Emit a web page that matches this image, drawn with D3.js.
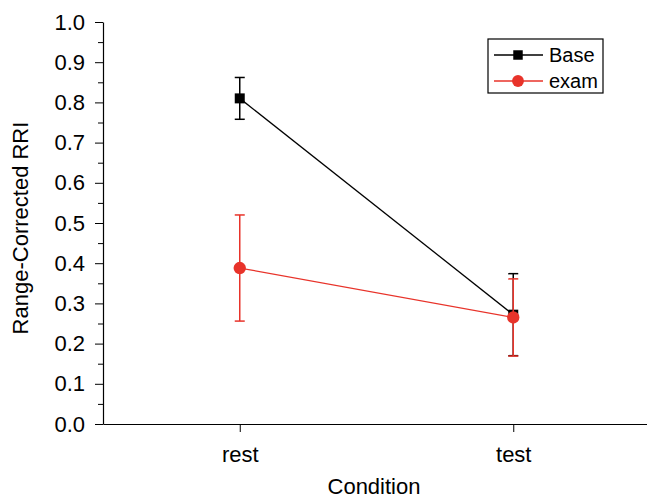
<!DOCTYPE html>
<html>
<head>
<meta charset="utf-8">
<script src="https://cdn.jsdelivr.net/npm/d3@7"></script>
<style>
  body { margin: 0; background: #fff; }
  text { font-family: "Liberation Sans", Arial, sans-serif; }
</style>
</head>
<body>
<script>
// Data
var conditions = ["rest", "test"];
var baseMean = [0.81, 0.272];
var baseErr = [0.052, 0.102];
var examMean = [0.388, 0.265];
var examErr = [0.132, 0.096];
var yTicks = [0, 0.1, 0.2, 0.3, 0.4, 0.5, 0.6, 0.7, 0.8, 0.9, 1.0];

var width = 647, height = 499;
var plotLeft = 103, plotTop = 22, plotBottom = 424;
var fontSize = 22;

var svg = d3.select("body").append("svg")
  .attr("width", width)
  .attr("height", height);

var x = d3.scalePoint().domain(conditions).range([plotLeft, 650]).padding(0.5);
var y = d3.scaleLinear().domain([0, 1]).range([plotBottom, plotTop]);

// y axis with minor ticks
var yMinor = d3.range(0.05, 1, 0.1);
svg.append("g")
  .attr("transform", `translate(${plotLeft},0)`)
  .call(d3.axisLeft(y).tickValues(yMinor).tickSize(5).tickFormat(""))
  .call(g => g.select(".domain").remove())
  .selectAll("line").attr("stroke", "#000");

var yAxis = svg.append("g")
  .attr("transform", `translate(${plotLeft},0)`)
  .call(d3.axisLeft(y).tickValues(yTicks).tickSize(8).tickSizeOuter(0).tickPadding(10).tickFormat(d3.format(".1f")));
yAxis.selectAll("text").attr("font-size", fontSize).attr("fill", "#000");

// x axis
var xAxis = svg.append("g")
  .attr("transform", `translate(0,${plotBottom})`)
  .call(d3.axisBottom(x).tickSize(8).tickSizeOuter(0).tickPadding(14));
xAxis.selectAll("text").attr("font-size", fontSize).attr("fill", "#000");

svg.selectAll(".domain").attr("stroke", "#000").attr("stroke-width", 1.2);

// axis titles
svg.append("text")
  .attr("x", 374).attr("y", 494)
  .attr("text-anchor", "middle")
  .attr("font-size", fontSize)
  .text("Condition");

svg.append("text")
  .attr("transform", "translate(28,228) rotate(-90)")
  .attr("text-anchor", "middle")
  .attr("font-size", fontSize)
  .text("Range-Corrected RRI");

// series
function series(mean, err, color, shape) {
  var g = svg.append("g");
  var line = d3.line().x((d, i) => x(conditions[i])).y(d => y(d));
  g.append("path").datum(mean)
    .attr("d", line).attr("fill", "none")
    .attr("stroke", color).attr("stroke-width", 1.3);

  mean.forEach(function (m, i) {
    var cx = x(conditions[i]);
    g.append("line")
      .attr("x1", cx).attr("x2", cx)
      .attr("y1", y(m - err[i])).attr("y2", y(m + err[i]))
      .attr("stroke", color).attr("stroke-width", 1.5);
    [m - err[i], m + err[i]].forEach(function (v) {
      g.append("line")
        .attr("x1", cx - 5).attr("x2", cx + 5)
        .attr("y1", y(v)).attr("y2", y(v))
        .attr("stroke", color).attr("stroke-width", 1.5);
    });
  });

  g.selectAll(".pt").data(mean).enter()
    .append("path")
    .attr("transform", (d, i) => `translate(${x(conditions[i])},${y(d)})`)
    .attr("d", d3.symbol().type(shape).size(shape === d3.symbolSquare ? 100 : 120))
    .attr("fill", color);
}

series(baseMean, baseErr, "#000", d3.symbolSquare);
series(examMean, examErr, "#e8332a", d3.symbolCircle);

// legend
var legend = svg.append("g");
legend.append("rect")
  .attr("x", 488).attr("y", 39).attr("width", 115).attr("height", 54)
  .attr("fill", "#fff").attr("stroke", "#000").attr("stroke-width", 1.2);
var items = [
  { name: "Base", color: "#000", shape: d3.symbolSquare, size: 90 },
  { name: "exam", color: "#e8332a", shape: d3.symbolCircle, size: 110 }
];
items.forEach(function (it, i) {
  var ly = 55 + i * 26;
  legend.append("line")
    .attr("x1", 494).attr("x2", 543)
    .attr("y1", ly).attr("y2", ly)
    .attr("stroke", it.color).attr("stroke-width", 1.3);
  legend.append("path")
    .attr("transform", `translate(518,${ly})`)
    .attr("d", d3.symbol().type(it.shape).size(it.size))
    .attr("fill", it.color);
  legend.append("text")
    .attr("x", 549).attr("y", ly + 7)
    .attr("font-size", 20)
    .text(it.name);
});
</script>
</body>
</html>
